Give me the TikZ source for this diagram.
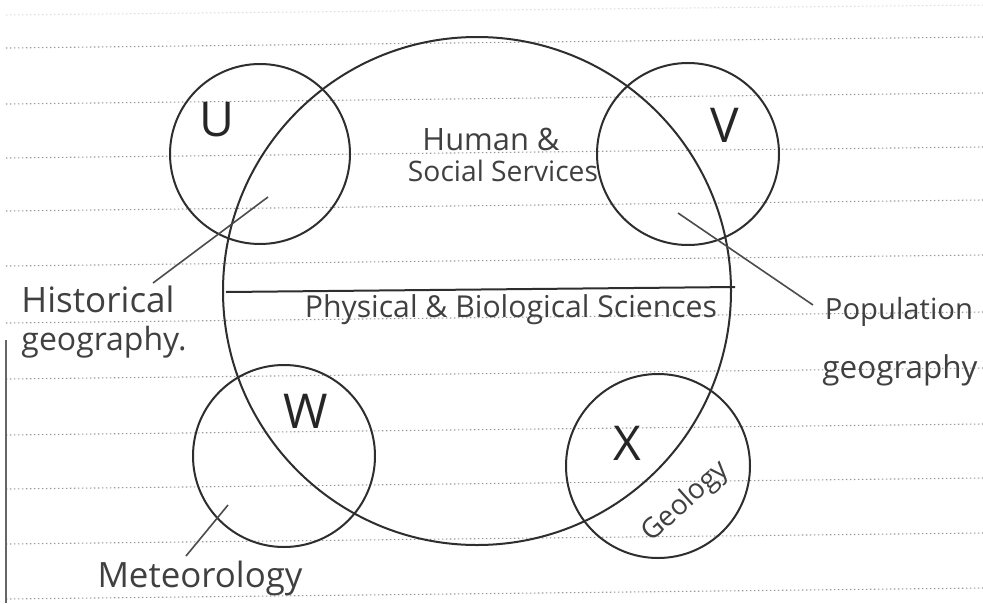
\documentclass[tikz,border=0pt]{standalone}
\usepackage{fontspec}
\setmainfont{Open Sans}
\usepackage{graphicx}
\newcommand{\fitw}[2]{\resizebox{#1pt}{!}{#2}}
\begin{document}
\begin{tikzpicture}[x=1pt,y=-1pt,
  ink/.style={draw=black!82, line width=2pt},
  circ/.style={ink, circle, inner sep=0pt, outer sep=0pt},
  lead/.style={draw=black!70, line width=1.6pt},
  ruled/.style={draw=black!40, line width=1.1pt, dash pattern=on 1.4pt off 2.6pt},
  hand/.style={text=black!75, inner sep=0pt},
  letter/.style={text=black!85, inner sep=0pt, font=\fontsize{48}{48}\selectfont},
]
\useasboundingbox (0,0) rectangle (983,603);
\fill[white] (0,0) rectangle (983,603);
% ruled paper
\foreach \yy in {48,104,158,211,266,323,379,435,489,544,599}{
  \draw[ruled] (6,\yy) -- (983,\yy-11);
}
\draw[black!15, line width=1pt, dash pattern=on 1.4pt off 2.6pt] (6,15) -- (983,5);
\draw[black!60, line width=2.5pt] (6,340) -- (6,603);

% circles
\node[circ, minimum size=508pt] (S) at (477,291) {};
\node[circ, minimum size=180pt] (cU) at (260,154) {};
\node[circ, minimum size=182pt] (cV) at (688,154) {};
\node[circ, minimum size=182pt] (cW) at (284,456) {};
\node[circ, minimum size=184pt] (cX) at (658,466) {};

% letters
\node[letter] (U) at (217,120) {U};
\node[letter] (V) at (725,125) {V};
\node[letter] (W) at (306,411) {W};
\node[letter] (X) at (627,443) {X};

% dividing chord
\coordinate (chL) at (226,292);
\coordinate (chR) at (735,287);
\draw[ink] (chL) -- (chR);

% texts
\node[hand] (hum) at (491,139) {\fitw{137}{Human \&}};
\node[hand] (soc) at (503,171) {\fitw{190}{Social Services}};
\node[hand] (phy) at (511,310) {\fitw{412}{Physical \& Biological Sciences}};
\node[hand] (his1) at (98,299) {\fitw{153}{Historical}};
\node[hand] (his2) at (104,342) {\fitw{165}{geography.}};
\node[hand] (pop1) at (899,312) {\fitw{148}{Population}};
\node[hand] (pop2) at (900,370) {\fitw{155}{geography}};
\node[hand] (met) at (200,578) {\fitw{205}{Meteorology}};
\node[hand, rotate=42] (geo) at (686,502) {\fitw{106}{Geology}};

% leaders
\coordinate (hA) at (268,197);
\coordinate (hB) at (153,283);
\draw[lead] (hA) -- (hB);
\coordinate (pA) at (678,213);
\coordinate (pB) at (813,305);
\draw[lead] (pA) -- (pB);
\coordinate (mA) at (228,505);
\coordinate (mB) at (186,556);
\draw[lead] (mA) -- (mB);
\end{tikzpicture}
\end{document}
